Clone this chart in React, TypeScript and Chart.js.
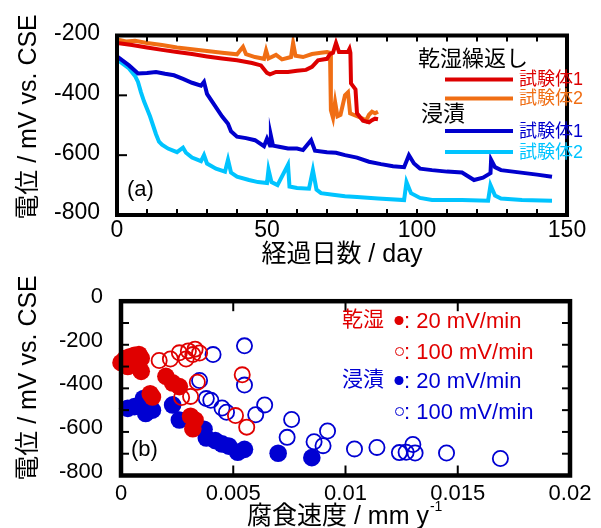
import { useEffect, useRef } from 'react';
import { Chart, registerables } from 'chart.js';
Chart.register(...registerables);

const FONT = '"Liberation Sans", "Noto Sans CJK JP", Arial, sans-serif';

// ---------- (a) potential vs elapsed days ----------
const dw1Days = [0, 5, 10, 15, 20, 25, 30, 35, 40, 45, 48, 50, 51, 53, 57, 60, 63, 65, 67, 70, 71, 72, 73, 74, 77, 77.5, 77.8, 78, 79.5, 80, 82, 84, 85, 86, 87];
const dw1Mv = [-225, -232, -240, -248, -255, -262, -270, -277, -283, -292, -300, -325, -330, -322, -322, -318, -315, -305, -283, -278, -262, -258, -225, -255, -255, -245, -258, -360, -380, -460, -485, -490, -483, -478, -480];

const dw2Days = [0, 3, 6, 10, 15, 20, 25, 30, 35, 40, 42, 43, 46, 49, 49.7, 50.5, 53, 55, 58, 58.7, 59.5, 62, 65, 68, 70, 71, 71.3, 72, 72.7, 73.5, 74.5, 76, 77, 77.7, 80, 82, 83, 84, 85, 86, 87];
const dw2Mv = [-213, -220, -218, -225, -232, -240, -246, -252, -258, -263, -238, -262, -272, -278, -250, -277, -265, -280, -272, -225, -268, -272, -262, -258, -255, -258, -450, -475, -422, -470, -465, -400, -390, -460, -470, -478, -485, -465, -455, -460, -455];

const im1Days = [0, 2, 4, 6, 7, 10, 13, 16, 19, 22, 25, 28, 29, 30, 32, 35, 37, 38, 40, 43, 46, 49, 50, 51, 51.3, 52, 54, 57, 60, 62, 64.7, 66, 70, 73, 76, 80, 84, 88, 92, 95.7, 97.3, 99, 101, 105, 110, 115, 119, 122, 124.5, 124.7, 126, 128, 132, 136, 140, 145];
const im1Mv = [-270, -285, -300, -318, -327, -325, -322, -328, -333, -345, -358, -368, -355, -395, -425, -470, -495, -520, -538, -543, -550, -570, -545, -568, -535, -568, -572, -578, -578, -583, -550, -585, -590, -592, -600, -608, -622, -630, -637, -640, -600, -628, -645, -650, -655, -658, -683, -675, -660, -615, -640, -650, -655, -660, -665, -672];

const im2Days = [0, 2, 4, 6, 7, 8, 9, 10, 11, 12, 13, 14, 15, 17, 20, 22, 23, 25, 28, 29, 30, 33, 36, 37, 38, 40, 44, 47, 50, 50.5, 51.5, 53.5, 57, 57.5, 60, 64, 65.3, 66.5, 68, 72, 76, 80, 87, 95.7, 96.5, 98, 101, 105, 115, 123.7, 124.5, 126, 128, 135, 145];
const im2Mv = [-280, -295, -310, -335, -355, -390, -420, -445, -470, -500, -530, -555, -565, -578, -590, -575, -592, -608, -620, -600, -628, -645, -655, -615, -658, -672, -683, -690, -693, -648, -690, -700, -632, -705, -710, -712, -650, -715, -727, -732, -737, -740, -745, -750, -690, -727, -743, -750, -750, -752, -700, -735, -745, -750, -752];

const groupLabels = ['乾湿繰返し', '浸漬'];
const specimenLabels = ['試験体1', '試験体2'];

// ---------- (b) potential vs corrosion rate ----------
const rateDw20 = [0.0000, 0.0002, 0.0004, 0.0006, 0.0008, 0.0009, 0.0003, 0.0005, 0.0008, 0.0009, 0.0013, 0.0014, 0.0020, 0.0023, 0.0026, 0.0031, 0.0033, 0.0032];
const mvDw20 = [-282, -262, -255, -248, -245, -262, -300, -290, -305, -322, -425, -440, -345, -375, -392, -528, -545, -585];

const rateDw100 = [0.0017, 0.0022, 0.0026, 0.0029, 0.0030, 0.0032, 0.0033, 0.0035, 0.0034, 0.0031, 0.0027, 0.0054, 0.0051, 0.0056];
const mvDw100 = [-272, -265, -237, -265, -228, -245, -220, -238, -372, -437, -442, -338, -525, -578];

const rateIm20 = [0.0003, 0.0006, 0.0010, 0.0011, 0.0012, 0.0014, 0.0023, 0.0026, 0.0037, 0.0038, 0.0042, 0.0045, 0.0048, 0.0052, 0.0055, 0.0070, 0.0085];
const mvIm20 = [-492, -484, -447, -515, -445, -500, -476, -545, -588, -628, -640, -655, -665, -693, -680, -698, -718];

const rateIm100 = [0.0041, 0.0055, 0.0035, 0.0055, 0.0038, 0.0040, 0.0045, 0.0047, 0.0060, 0.0064, 0.0076, 0.0074, 0.0086, 0.0092, 0.0090, 0.0104, 0.0114, 0.0124, 0.0127, 0.0130, 0.0131, 0.0145, 0.0169];
const mvIm100 = [-245, -205, -364, -385, -447, -455, -490, -510, -521, -476, -543, -625, -645, -596, -663, -678, -671, -695, -693, -658, -697, -697, -722];

const envLabels = ['乾湿', '浸漬'];
const rateLabels = ['20 mV/min', '100 mV/min'];

const C_RED = '#dd0000';
const C_ORANGE = '#f06e14';
const C_BLUE = '#0000cd';
const C_CYAN = '#00c4ff';
const C_RED_B = '#e00000';
const C_BLUE_B = '#0000d2';

const pts = (xs: number[], ys: number[]) => xs.map((x, i) => ({ x, y: ys[i] }));

function line(ctx: CanvasRenderingContext2D, x1: number, y1: number, x2: number, y2: number) {
  ctx.beginPath();
  ctx.moveTo(x1, y1);
  ctx.lineTo(x2, y2);
  ctx.stroke();
}

const frameA = {
  id: 'frameA',
  afterDraw(chart: any) {
    const { ctx, chartArea: a, scales } = chart;
    const xs = scales.x;
    const ys = scales.y;
    ctx.save();
    ctx.strokeStyle = '#000';
    ctx.lineWidth = 2;
    for (let d = 10; d < 150; d += 10) {
      const px = xs.getPixelForValue(d);
      line(ctx, px, a.bottom, px, a.bottom - 6);
      line(ctx, px, a.top, px, a.top + 6);
    }
    for (const v of [-400, -600]) {
      const py = ys.getPixelForValue(v);
      line(ctx, a.left, py, a.left + 10, py);
    }
    ctx.lineWidth = 4;
    ctx.strokeRect(a.left, a.top, a.right - a.left, a.bottom - a.top);

    ctx.fillStyle = '#000';
    ctx.textBaseline = 'middle';
    ctx.save();
    ctx.translate(29.5, 117);
    ctx.rotate(-Math.PI / 2);
    ctx.textAlign = 'center';
    ctx.font = `25px ${FONT}`;
    ctx.fillText('電位 / mV vs. CSE', 0, 0);
    ctx.restore();
    ctx.textAlign = 'center';
    ctx.font = `25px ${FONT}`;
    ctx.fillText('経過日数 / day', 342, 255);
    ctx.textAlign = 'left';
    ctx.font = `22px ${FONT}`;
    ctx.fillText('(a)', 127, 190);
    ctx.font = `22px ${FONT}`;
    ctx.fillText(groupLabels[0], 418, 60);
    ctx.fillText(groupLabels[1], 421, 115);
    const rows = [
      { y: 79.5, c: C_RED, t: specimenLabels[0] },
      { y: 98.5, c: C_ORANGE, t: specimenLabels[1] },
      { y: 131, c: C_BLUE, t: specimenLabels[0] },
      { y: 152, c: C_CYAN, t: specimenLabels[1] },
    ];
    ctx.font = `18px ${FONT}`;
    for (const r of rows) {
      ctx.strokeStyle = r.c;
      ctx.lineWidth = 4;
      line(ctx, 445, r.y, 513, r.y);
      ctx.fillStyle = r.c;
      ctx.fillText(r.t, 519, r.y + 1);
    }
    ctx.restore();
  },
};

const frameB = {
  id: 'frameB',
  afterDraw(chart: any) {
    const { ctx, chartArea: a, scales } = chart;
    const xs = scales.x;
    const ys = scales.y;
    ctx.save();
    ctx.strokeStyle = '#000';
    ctx.lineWidth = 2;
    for (const v of [0.005, 0.01, 0.015]) {
      const px = xs.getPixelForValue(v);
      line(ctx, px, a.bottom, px, a.bottom - 10);
      line(ctx, px, a.top, px, a.top + 10);
    }
    for (let v = -100; v > -800; v -= 100) {
      const py = ys.getPixelForValue(v);
      line(ctx, a.left, py, a.left + 8, py);
      line(ctx, a.right, py, a.right - 8, py);
    }
    ctx.lineWidth = 4.5;
    ctx.strokeRect(a.left, a.top, a.right - a.left, a.bottom - a.top);

    ctx.fillStyle = '#000';
    ctx.textBaseline = 'middle';
    ctx.save();
    ctx.translate(29, 108);
    ctx.rotate(-Math.PI / 2);
    ctx.textAlign = 'center';
    ctx.font = `25px ${FONT}`;
    ctx.fillText('電位 / mV vs. CSE', 0, 0);
    ctx.restore();
    ctx.textAlign = 'left';
    ctx.font = `25px ${FONT}`;
    const main = '腐食速度 / mm y';
    ctx.fillText(main, 247, 247);
    const w = ctx.measureText(main).width;
    ctx.font = `14px ${FONT}`;
    ctx.fillText('-1', 247 + w + 1, 237);
    ctx.font = `22px ${FONT}`;
    ctx.fillText('(b)', 131, 180);
    const rows = [
      { y: 50.5, c: C_RED_B, env: envLabels[0], filled: true, t: rateLabels[0] },
      { y: 81.5, c: C_RED_B, env: '', filled: false, t: rateLabels[1] },
      { y: 110.5, c: C_BLUE_B, env: envLabels[1], filled: true, t: rateLabels[0] },
      { y: 141.5, c: C_BLUE_B, env: '', filled: false, t: rateLabels[1] },
    ];
    for (const r of rows) {
      ctx.fillStyle = r.c;
      ctx.strokeStyle = r.c;
      if (r.env) {
        ctx.font = `21px ${FONT}`;
        ctx.fillText(r.env, 342, r.y);
      }
      ctx.beginPath();
      if (r.filled) {
        ctx.arc(399, r.y, 4.5, 0, Math.PI * 2);
        ctx.fill();
      } else {
        ctx.lineWidth = 1;
        ctx.arc(399.5, r.y, 4, 0, Math.PI * 2);
        ctx.stroke();
      }
      ctx.font = `22px ${FONT}`;
      ctx.fillText(': ' + r.t, 404, r.y + 1);
    }
    ctx.restore();
  },
};

const tickFontA = { family: FONT, size: 23 };
const tickFontB = { family: FONT, size: 22 };

export default function App() {
  const refA = useRef<HTMLCanvasElement>(null);
  const refB = useRef<HTMLCanvasElement>(null);

  useEffect(() => {
    const lineDs = (label: string, xs: number[], ys: number[], color: string) => ({
      label,
      data: pts(xs, ys),
      borderColor: color,
      backgroundColor: color,
      borderWidth: 4,
      pointRadius: 0,
      tension: 0,
      borderJoinStyle: 'miter' as const,
    });
    const chartA = new Chart(refA.current!, {
      type: 'line',
      data: {
        datasets: [
          lineDs('乾湿 試験体1', dw1Days, dw1Mv, C_RED),
          lineDs('乾湿 試験体2', dw2Days, dw2Mv, C_ORANGE),
          lineDs('浸漬 試験体1', im1Days, im1Mv, C_BLUE),
          lineDs('浸漬 試験体2', im2Days, im2Mv, C_CYAN),
        ],
      },
      options: {
        responsive: false,
        animation: false,
        devicePixelRatio: 1,
        layout: { padding: { left: 0, right: 34, top: 35.5, bottom: 0 } },
        plugins: { legend: { display: false }, tooltip: { enabled: false } },
        scales: {
          x: {
            type: 'linear',
            min: 0,
            max: 150,
            ticks: { stepSize: 50, font: tickFontA, color: '#000', padding: 2, maxRotation: 0, autoSkip: false },
            grid: { display: false, drawTicks: false },
            border: { display: false },
            afterFit: (s: any) => { s.height = 55; },
          },
          y: {
            type: 'linear',
            min: -800,
            max: -200,
            ticks: { stepSize: 200, font: tickFontA, color: '#000', padding: 17, labelOffset: -2, callback: (v: any) => String(v) },
            grid: { display: false, drawTicks: false },
            border: { display: false },
            afterFit: (s: any) => { s.width = 117; },
          },
        },
      },
      plugins: [frameA],
    });

    const scDs = (label: string, xs: number[], ys: number[], color: string, filled: boolean) => ({
      label,
      data: pts(xs, ys),
      pointStyle: 'circle' as const,
      pointRadius: filled ? 8.8 : 7.6,
      pointBorderWidth: filled ? 0 : 1.8,
      pointBackgroundColor: filled ? color : 'rgba(0,0,0,0)',
      pointBorderColor: color,
      showLine: false,
    });
    const chartB = new Chart(refB.current!, {
      type: 'scatter',
      data: {
        datasets: [
          scDs('乾湿 100', rateDw100, mvDw100, C_RED_B, false),
          scDs('乾湿 20', rateDw20, mvDw20, C_RED_B, true),
          scDs('浸漬 100', rateIm100, mvIm100, C_BLUE_B, false),
          scDs('浸漬 20', rateIm20, mvIm20, C_BLUE_B, true),
        ],
      },
      options: {
        responsive: false,
        animation: false,
        devicePixelRatio: 1,
        clip: false as any,
        layout: { padding: { left: 0, right: 31, top: 27, bottom: 0 } },
        plugins: { legend: { display: false }, tooltip: { enabled: false } },
        scales: {
          x: {
            type: 'linear',
            min: 0,
            max: 0.02,
            ticks: {
              stepSize: 0.005,
              font: tickFontB,
              color: '#000',
              padding: 5,
              maxRotation: 0,
              autoSkip: false,
              callback: (v: any) => (Number(v) === 0 ? '0' : String(parseFloat(Number(v).toFixed(3)))),
            },
            grid: { display: false, drawTicks: false },
            border: { display: false },
            afterFit: (s: any) => { s.height = 52.5; },
          },
          y: {
            type: 'linear',
            min: -800,
            max: 0,
            ticks: { stepSize: 200, font: tickFontB, color: '#000', padding: 18, labelOffset: -4, callback: (v: any) => String(v) },
            grid: { display: false, drawTicks: false },
            border: { display: false },
            afterFit: (s: any) => { s.width = 121; },
          },
        },
      },
      plugins: [frameB],
    });

    return () => {
      chartA.destroy();
      chartB.destroy();
    };
  }, []);

  return (
    <div style={{ position: 'absolute', left: 0, top: 0, width: 601, height: 528, background: '#fff' }}>
      <canvas ref={refA} width={601} height={270} style={{ position: 'absolute', left: 0, top: 0, display: 'block' }} />
      <canvas ref={refB} width={601} height={258} style={{ position: 'absolute', left: 0, top: 270, display: 'block' }} />
    </div>
  );
}
